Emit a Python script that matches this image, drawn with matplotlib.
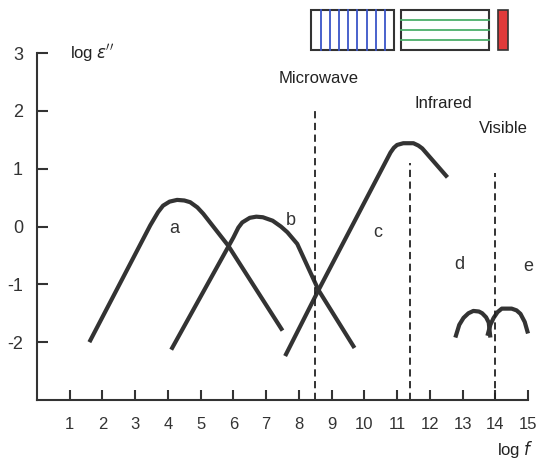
import matplotlib.pyplot as plt
from matplotlib.patches import Rectangle

plt.rcParams["font.family"] = ["Liberation Sans", "DejaVu Sans"]

# curve points (log f, log eps'')
a_x = [1.6, 3.46, 3.7, 3.85, 4.05, 4.28, 4.5, 4.68, 4.9, 5.08, 5.84, 7.5]
a_y = [-2.0, 0.02, 0.25, 0.36, 0.43, 0.46, 0.45, 0.42, 0.33, 0.22, -0.33, -1.8]

b_x = [4.1, 6.0, 6.15, 6.27, 6.5, 6.7, 6.9, 7.2, 7.45, 7.65, 7.95, 8.6, 9.7]
b_y = [-2.13, -0.19, -0.02, 0.07, 0.15, 0.17, 0.16, 0.1, 0.0, -0.1, -0.3, -1.1, -2.1]

c_x = [7.58, 8.6, 10.8, 10.9, 11.0, 11.19, 11.5, 11.65, 11.77, 12.54]
c_y = [-2.24, -1.1, 1.28, 1.36, 1.41, 1.44, 1.44, 1.40, 1.35, 0.85]

d_x = [12.78, 12.9, 13.03, 13.18, 13.33, 13.5, 13.6, 13.72, 13.8, 13.85]
d_y = [-1.92, -1.7, -1.58, -1.5, -1.46, -1.47, -1.5, -1.57, -1.66, -1.92]

e_x = [13.76, 13.85, 13.95, 14.07, 14.2, 14.5, 14.65, 14.77, 14.9, 15.0]
e_y = [-1.89, -1.7, -1.58, -1.48, -1.42, -1.42, -1.45, -1.51, -1.65, -1.85]

curve_labels = ["a", "b", "c", "d", "e"]
label_x = [4.2, 7.75, 10.4, 12.9, 15.0]
label_y = [-0.03, 0.1, -0.1, -0.66, -0.7]

# dashed region borders: x, top
border_x = [8.5, 11.4, 14.0]
border_top = [2.05, 1.1, 0.92]
region_names = ["Microwave", "Infrared", "Visible"]
region_x = [8.6, 12.4, 14.25]
region_y = [2.56, 2.13, 1.7]

xticks = list(range(1, 16))
yticks = [-2, -1, 0, 1, 2, 3]

fig = plt.figure(figsize=(5.41, 4.63), dpi=100)
ax = fig.add_axes([37 / 541, 63 / 463, 491 / 541, 347 / 463])
ax.set_xlim(0, 15)
ax.set_ylim(-3, 3)

ink = "#333333"
for xs, ys in [(a_x, a_y), (b_x, b_y), (c_x, c_y), (d_x, d_y), (e_x, e_y)]:
    ax.plot(xs, ys, color=ink, lw=3.0, solid_capstyle="butt",
            solid_joinstyle="round", clip_on=False)

for x, top in zip(border_x, border_top):
    ax.plot([x, x], [-3, top], color="#222222", lw=1.3,
            linestyle=(0, (4, 2.5)), clip_on=False)

for name, x, y in zip(region_names, region_x, region_y):
    ax.text(x, y, name, fontsize=12, ha="center", va="center", color="#222222")

for lab, x, y in zip(curve_labels, label_x, label_y):
    ax.text(x, y, lab, fontsize=13, ha="center", va="center", color="#333333")

ax.text(1.0, 3.0, r"log $\it{\varepsilon}$$''$", fontsize=12, ha="left",
        va="center", color="#222222")
ax.text(14.6, -3.85, r"log $\it{f}$", fontsize=12, ha="center", va="center",
        color="#222222")

# spectrum boxes on top
box_y0, box_y1 = 3.05, 3.74
blue = Rectangle((8.38, box_y0), 2.54, box_y1 - box_y0, fill=False,
                 ec="#333333", lw=1.5, clip_on=False)
ax.add_patch(blue)
for i in range(1, 9):
    xx = 8.38 + 2.54 * i / 9
    ax.plot([xx, xx], [box_y0, box_y1], color="#3a55c8", lw=1.3, clip_on=False)
green = Rectangle((11.13, box_y0), 2.69, box_y1 - box_y0, fill=False,
                  ec="#333333", lw=1.5, clip_on=False)
ax.add_patch(green)
for i in range(1, 4):
    yy = box_y0 + (box_y1 - box_y0) * i / 4
    ax.plot([11.13, 13.82], [yy, yy], color="#4caf6a", lw=1.3, clip_on=False)
red = Rectangle((14.07, box_y0), 0.33, box_y1 - box_y0, fc="#e03a3a",
                ec="#333333", lw=1.2, clip_on=False)
ax.add_patch(red)

for s in ["top", "right"]:
    ax.spines[s].set_visible(False)
for s in ["left", "bottom"]:
    ax.spines[s].set_linewidth(1.5)
    ax.spines[s].set_color("#333333")

ax.set_xticks(xticks)
ax.set_yticks(yticks)
ax.set_yticklabels([str(t) for t in yticks])
ax.tick_params(axis="x", direction="in", length=7, width=1.5, pad=12,
               labelsize=12, colors="#333333")
ax.tick_params(axis="y", direction="in", length=8, width=1.5, pad=10,
               labelsize=13, colors="#333333")

fig.savefig("out.png", dpi=100)
